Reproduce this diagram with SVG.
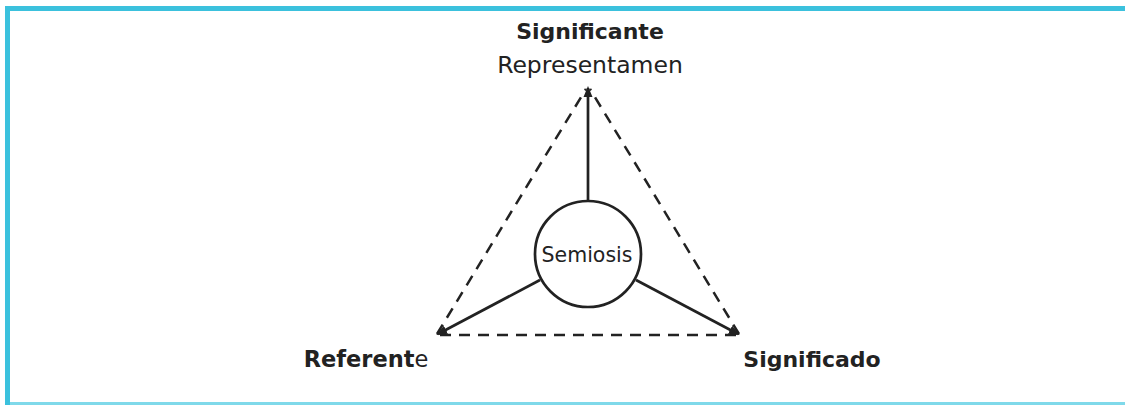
<svg xmlns="http://www.w3.org/2000/svg" width="1125" height="405" viewBox="0 0 1125 405">
<style>
.lbl{font-family:"DejaVu Sans","Liberation Sans",sans-serif;fill:#222;text-anchor:middle}
.b{font-weight:bold}
.solid{stroke:#222;stroke-width:2.7;fill:none}
.dash{stroke:#222;stroke-width:2.5;fill:none;stroke-dasharray:11 8}
</style>
<defs>
<marker id="ah" markerWidth="12" markerHeight="12" refX="9" refY="6" orient="auto" markerUnits="userSpaceOnUse">
<path d="M0,1.5 L11,6 L0,10.5 Z" fill="#222"/>
</marker>
</defs>
<rect x="0" y="0" width="1125" height="405" fill="#fff"/>
<g id="frame">
<rect x="5" y="6" width="1120" height="5" fill="#3bc1dd"/>
<rect x="5" y="6" width="5" height="399" fill="#3bc1dd"/>
<rect x="10" y="402" width="1115" height="3" fill="#7fd9ea"/>
</g>
<g id="connectors">
<path class="dash" d="M437,334 L586,89"/>
<path class="dash" d="M739,334 L590,89"/>
<path class="dash" d="M440,335 L737,335"/>
<path class="solid" d="M588,200 L588,88" marker-end="url(#ah)"/>
<path class="solid" d="M540,280 L438,334" marker-end="url(#ah)"/>
<path class="solid" d="M636,280 L738,334" marker-end="url(#ah)"/>
</g>
<g id="node-semiosis">
<circle cx="588" cy="254" r="53" fill="#fff" stroke="#222" stroke-width="2.7"/>
<text class="lbl" x="587" y="262" font-size="20.5">Semiosis</text>
</g>
<g id="node-significante">
<text class="lbl b" x="590" y="39" font-size="22">Significante</text>
<text class="lbl" x="590" y="73" font-size="23.5">Representamen</text>
</g>
<g id="node-referente">
<text class="lbl" x="366" y="367" font-size="22.5"><tspan class="b">Referent</tspan>e</text>
</g>
<g id="node-significado">
<text class="lbl b" x="812" y="367" font-size="22">Significado</text>
</g>
</svg>
